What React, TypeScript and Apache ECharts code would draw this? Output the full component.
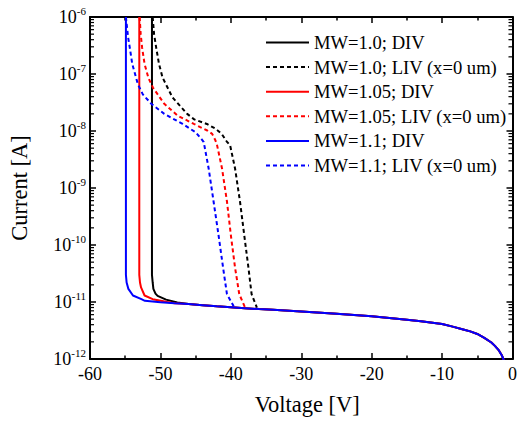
import React, { useEffect, useRef } from "react";
import * as echarts from "echarts";

const FONT = "Liberation Serif";

const seriesNames = [
  "MW=1.0; DIV",
  "MW=1.0; LIV (x=0 um)",
  "MW=1.05; DIV",
  "MW=1.05; LIV (x=0 um)",
  "MW=1.1; DIV",
  "MW=1.1; LIV (x=0 um)",
];
const seriesColors = ["#000000", "#000000", "#ff0000", "#ff0000", "#0000ff", "#0000ff"];
const seriesDashed = [false, true, false, true, false, true];

// common leakage floor shared by all DIV curves
const floorV = [-50, -48, -46, -44, -42, -40, -38, -36, -34, -30, -25, -20, -15, -13, -10, -8.5, -7, -6, -5, -4, -3, -2.5, -2, -1.5, -1.3, -1.0];
const floorI = [9.9e-12, 9.5e-12, 9.2e-12, 8.8e-12, 8.4e-12, 8.1e-12, 7.8e-12, 7.5e-12, 7.3e-12, 6.8e-12, 6.2e-12, 5.6e-12, 4.9e-12, 4.6e-12, 4.1e-12, 3.7e-12, 3.3e-12, 3.05e-12, 2.75e-12, 2.35e-12, 1.95e-12, 1.7e-12, 1.45e-12, 1.15e-12, 1.0e-12, 7e-13];

// DIV breakdown / knee portions
const div10V = [-51.2, -51.2, -51.1, -51.0, -50.7, -50.4, -49.2, -47.6];
const div10I = [1e-6, 3e-11, 2.2e-11, 1.7e-11, 1.4e-11, 1.28e-11, 1.1e-11, 9.8e-12];
const div105V = [-53.0, -53.0, -52.9, -52.75, -52.25, -51.1, -49.0];
const div105I = [1e-6, 3e-11, 2.2e-11, 1.8e-11, 1.3e-11, 1.12e-11, 1.0e-11];
const div11V = [-54.9, -54.9, -54.8, -54.55, -53.9, -52.7, -52.2];
const div11I = [1e-6, 3e-11, 2.2e-11, 1.7e-11, 1.3e-11, 1.12e-11, 1.05e-11];

// LIV curves
const liv10V = [-51.1, -50.9, -50.6, -50.2, -49.7, -48.3, -46.2, -45.2, -43.4, -42.2, -41.3, -40.6, -40.1, -39.4, -38.7, -38.1, -37.5, -37.05, -36.3];
const liv10I = [1e-6, 5e-7, 2.9e-7, 1.5e-7, 8.7e-8, 3.9e-8, 2e-8, 1.6e-8, 1.33e-8, 1.1e-8, 8.9e-9, 6.6e-9, 5.6e-9, 2.2e-9, 5.8e-10, 1.5e-10, 4e-11, 1.37e-11, 8e-12];
const liv105V = [-52.95, -52.8, -52.6, -52.25, -51.7, -51.07, -49.45, -47.55, -45.25, -43.35, -42.65, -42.2, -41.95, -41.25, -40.55, -40.0, -39.4, -38.8, -38.0];
const liv105I = [1e-6, 5e-7, 2.9e-7, 1.5e-7, 8.5e-8, 5.8e-8, 3e-8, 1.86e-8, 1.33e-8, 1.02e-8, 8.9e-9, 6.9e-9, 5.6e-9, 2.2e-9, 5.8e-10, 1.5e-10, 4e-11, 1.37e-11, 8.1e-12];
const liv11V = [-54.9, -54.6, -54.35, -54.0, -53.2, -52.5, -51.3, -49.45, -46.85, -45.0, -44.05, -43.85, -43.15, -42.45, -41.75, -41.1, -40.55, -39.6];
const liv11I = [1e-6, 4.5e-7, 2.9e-7, 1.5e-7, 6.6e-8, 4.4e-8, 3e-8, 2e-8, 1.33e-8, 9.5e-9, 6.9e-9, 6.4e-9, 2.2e-9, 5.8e-10, 1.5e-10, 4e-11, 1.37e-11, 8.4e-12];

const minorExponents = [-12, -11, -10, -9, -8, -7];
const minorMultipliers = [2, 3, 4, 5, 6, 7, 8, 9];

function zip(v: number[], i: number[]) {
  return v.map((x, k) => [x, i[k]]);
}
function withFloor(v: number[], i: number[], fromV: number) {
  return zip(v, i).concat(zip(floorV, floorI).filter((p) => p[0] >= fromV));
}

export default function App() {
  const ref = useRef<HTMLDivElement>(null);
  useEffect(() => {
    if (!ref.current) return;
    const chart = echarts.init(ref.current, null, { renderer: "svg" });
    const datasets = [
      withFloor(div10V, div10I, -46),
      zip(liv10V, liv10I),
      withFloor(div105V, div105I, -48),
      zip(liv105V, liv105I),
      withFloor(div11V, div11I, -50),
      zip(liv11V, liv11I),
    ];
    const minorVals: number[][] = [];
    minorExponents.forEach((e) => minorMultipliers.forEach((m) => minorVals.push([-60, m * Math.pow(10, e)])));

    const axisLine = { show: true, onZero: false, lineStyle: { color: "#000", width: 2 } };
    const axisTick = { show: true, inside: true, length: 6, lineStyle: { color: "#000", width: 1.5 } };
    const minorTick = { show: true, splitNumber: 2, length: 3.5, lineStyle: { color: "#000", width: 1.5 } };

    const option: any = {
      animation: false,
      backgroundColor: "#fff",
      textStyle: { fontFamily: FONT },
      grid: { left: 88, right: 4, top: 17, bottom: 57, containLabel: false },
      legend: {
        show: true,
        orient: "vertical",
        left: 265,
        top: 33,
        padding: 0,
        itemWidth: 43,
        itemHeight: 14,
        itemGap: 5.6,
        selectedMode: false,
        data: seriesNames,
        itemStyle: { opacity: 0 },
        textStyle: { fontFamily: FONT, fontSize: 18.6, color: "#000", lineHeight: 18 },
      },
      xAxis: [
        {
          type: "value",
          min: -60,
          max: 0,
          interval: 10,
          position: "bottom",
          name: "Voltage [V]",
          nameLocation: "middle",
          nameGap: 34,
          nameTextStyle: { fontFamily: FONT, fontSize: 22.5, color: "#000", padding: [0, 0, 0, 12] },
          axisLine,
          axisTick,
          minorTick,
          axisLabel: { fontFamily: FONT, fontSize: 18, color: "#000", margin: 6 },
          splitLine: { show: false },
        },
        {
          type: "value",
          min: -60,
          max: 0,
          interval: 10,
          position: "top",
          axisLine,
          axisTick,
          minorTick,
          axisLabel: { show: false },
          splitLine: { show: false },
        },
      ],
      yAxis: [
        {
          type: "log",
          logBase: 10,
          min: 1e-12,
          max: 1e-6,
          position: "left",
          name: "Current [A]",
          nameLocation: "middle",
          nameGap: 59,
          nameTextStyle: { fontFamily: FONT, fontSize: 22.5, color: "#000" },
          axisLine,
          axisTick,
          axisLabel: {
            margin: 4,
            fontFamily: FONT,
            formatter: (v: number) => `{b|10}{s|${Math.round(Math.log10(v))}}`,
            rich: {
              b: { fontFamily: FONT, fontSize: 18, color: "#000" },
              s: { fontFamily: FONT, fontSize: 11, color: "#000", padding: [0, 0, 12, 0] },
            },
          },
          splitLine: { show: false },
        },
        {
          type: "log",
          logBase: 10,
          min: 1e-12,
          max: 1e-6,
          position: "right",
          axisLine,
          axisTick,
          axisLabel: { show: false },
          splitLine: { show: false },
        },
      ],
      series: [
        ...datasets.map((d, k) => ({
          type: "line",
          name: seriesNames[k],
          data: d,
          xAxisIndex: 0,
          yAxisIndex: 0,
          symbol: "none",
          showSymbol: false,
          clip: true,
          itemStyle: { color: seriesColors[k] },
          lineStyle: { color: seriesColors[k], width: 2, type: seriesDashed[k] ? [4, 3] : "solid" },
          z: 2 + k,
        })),
        {
          type: "custom",
          name: "minorTicks",
          xAxisIndex: 0,
          yAxisIndex: 0,
          silent: true,
          clip: false,
          data: minorVals,
          encode: { x: 0, y: 1 },
          z: 20,
          renderItem: (params: any, api: any) => {
            const y = api.value(1);
            const pL = api.coord([-60, y]);
            const pR = api.coord([0, y]);
            return {
              type: "group",
              children: [
                { type: "line", shape: { x1: pL[0], y1: pL[1], x2: pL[0] + 4, y2: pL[1] }, style: { stroke: "#000", lineWidth: 1.2 } },
                { type: "line", shape: { x1: pR[0], y1: pR[1], x2: pR[0] - 4, y2: pR[1] }, style: { stroke: "#000", lineWidth: 1.2 } },
              ],
            };
          },
        },
      ],
    };
    chart.setOption(option);
    return () => chart.dispose();
  }, []);
  return (
    <div
      ref={ref}
      style={{ position: "fixed", left: 0, top: 0, width: 520, height: 421, background: "#fff" }}
    />
  );
}
